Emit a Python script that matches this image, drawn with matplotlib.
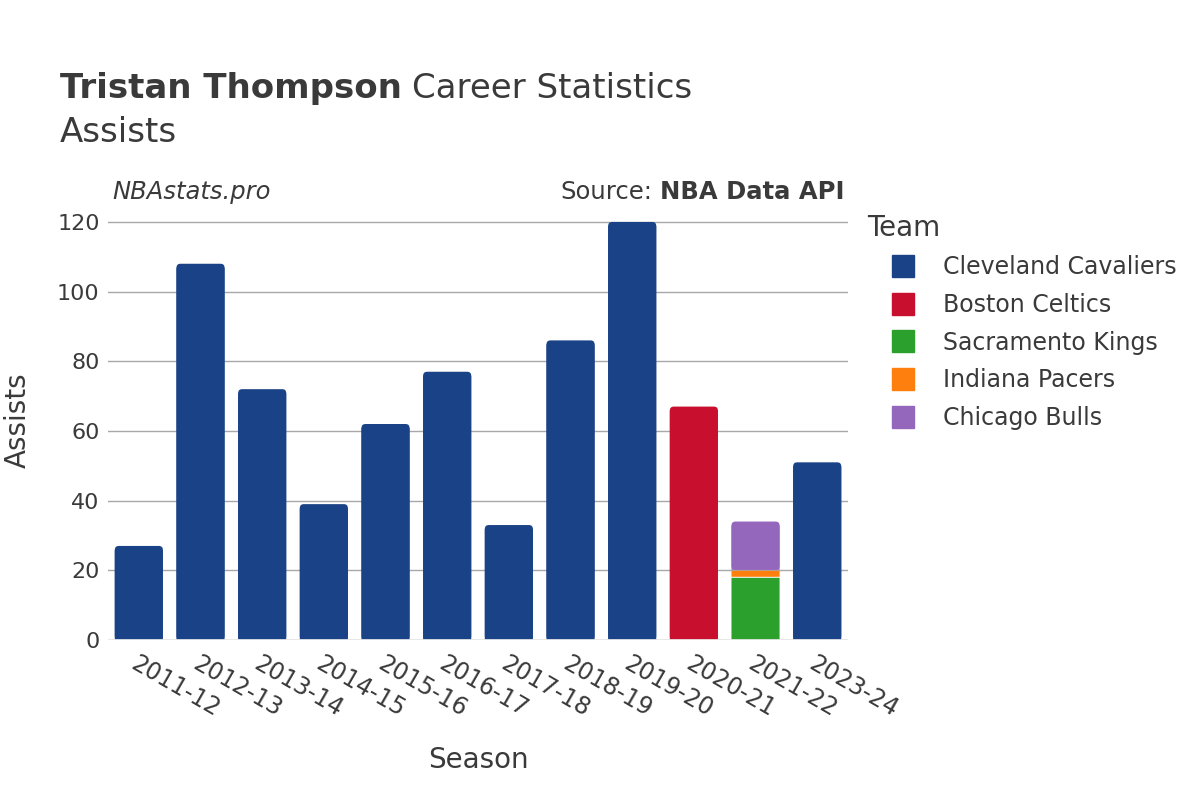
import matplotlib.pyplot as plt
from matplotlib.patches import FancyBboxPatch, Rectangle
from matplotlib.lines import Line2D

seasons = ["2011-12", "2012-13", "2013-14", "2014-15", "2015-16", "2016-17",
           "2017-18", "2018-19", "2019-20", "2020-21", "2021-22", "2023-24"]
teams = ["Cleveland Cavaliers", "Boston Celtics", "Sacramento Kings",
         "Indiana Pacers", "Chicago Bulls"]
colors = ["#1a4287", "#c8102e", "#2ca02c", "#ff7f0e", "#9467bd"]

cavaliers = [27, 108, 72, 39, 62, 77, 33, 86, 120, 0, 0, 51]
celtics = [0, 0, 0, 0, 0, 0, 0, 0, 0, 67, 0, 0]
kings = [0, 0, 0, 0, 0, 0, 0, 0, 0, 0, 18, 0]
pacers = [0, 0, 0, 0, 0, 0, 0, 0, 0, 0, 2, 0]
bulls = [0, 0, 0, 0, 0, 0, 0, 0, 0, 0, 14, 0]
series = [cavaliers, celtics, kings, pacers, bulls]

text_color = "#3a3a3a"
plt.rcParams['font.family'] = ['DejaVu Sans']

fig = plt.figure(figsize=(12, 8), dpi=100)
ax = fig.add_axes([0.09, 0.2, 0.6167, 0.55])

ymax = 126.3
x = list(range(len(seasons)))
width = 0.78
ax.set_xlim(-0.5, len(seasons) - 0.5)
ax.set_ylim(0, ymax)

# pixel scale, for the rounded tops and the thin gaps between segments
px_x = (len(seasons)) / (0.6167 * 1200)
px_y = ymax / (0.55 * 800)
radius = 4 * px_x
aspect = px_y / px_x
ry = radius * aspect
gap = 0.5 * px_y

totals = [sum(v) for v in zip(*series)]
bottoms = [0] * len(seasons)
for values, color in zip(series, colors):
    for i, v in enumerate(values):
        if v <= 0:
            continue
        b = bottoms[i]
        lo = b + (gap if b > 0 else 0)
        if b + v >= totals[i]:
            ax.add_patch(FancyBboxPatch(
                (x[i] - width / 2 + radius, lo + ry),
                width - 2 * radius, b + v - lo - 2 * ry,
                boxstyle="round,pad=%f" % radius, mutation_aspect=aspect,
                facecolor=color, edgecolor="none", zorder=3))
            ax.add_patch(Rectangle((x[i] - width / 2, lo), width,
                                   b + v - lo - ry, facecolor=color,
                                   edgecolor="none", zorder=3, snap=False))
        else:
            ax.add_patch(Rectangle((x[i] - width / 2, lo), width,
                                   b + v - gap - lo, facecolor=color,
                                   edgecolor="none", zorder=3, snap=False))
    bottoms = [bb + v for bb, v in zip(bottoms, values)]

ax.set_yticks([0, 20, 40, 60, 80, 100, 120])
ax.grid(axis='y', color="#a8a8a8", linewidth=1, zorder=0)
ax.axhline(0, color="#e8e8e8", linewidth=2, zorder=4)
for side in ax.spines.values():
    side.set_visible(False)
ax.tick_params(axis='both', length=0, colors=text_color)
ax.tick_params(axis='y', pad=6, labelsize=16)
ax.set_xticks(x)
ax.set_xticklabels(seasons, rotation=-30, ha='left', va='top',
                   rotation_mode='anchor')
ax.tick_params(axis='x', pad=8, labelsize=17)

ax.set_xlabel("Season", fontsize=20, color=text_color)
ax.set_ylabel("Assists", fontsize=20, color=text_color)
ax.xaxis.set_label_coords(0.5, -0.273)
ax.yaxis.set_label_coords(-0.1216, 0.5)
ax.xaxis.label.set_va('center')
ax.yaxis.label.set_va('center')

renderer = fig.canvas.get_renderer()
t1 = fig.text(0.05, 0.889, "Tristan Thompson", fontsize=24.5,
              fontweight='bold', color=text_color, va='center')
bb = t1.get_window_extent(renderer)
fig.text((bb.x1 + 10) / 1200, 0.889, "Career Statistics", fontsize=24.5,
         color=text_color, va='center')
fig.text(0.05, 0.835, "Assists", fontsize=24.5, color=text_color,
         va='center')

fig.text(0.094, 0.76, "NBAstats.pro", fontsize=17.5, style='italic',
         color=text_color, va='center')
t2 = fig.text(0.704, 0.76, "NBA Data API", fontsize=17.5, fontweight='bold',
              color=text_color, va='center', ha='right')
bb = t2.get_window_extent(renderer)
fig.text((bb.x0 - 8) / 1200, 0.76, "Source:", fontsize=17.5,
         color=text_color, va='center', ha='right')

handles = [Line2D([0], [0], marker='s', linestyle='', markersize=16,
                  markerfacecolor=c, markeredgecolor=c) for c in colors]
leg = fig.legend(handles, teams, title="Team", loc='upper left',
                 bbox_to_anchor=(0.7225, 0.733), frameon=False, fontsize=17,
                 title_fontsize=20, labelspacing=0.58, handlelength=3.05,
                 handletextpad=0.17, borderaxespad=0, borderpad=0)
leg._legend_box.align = "left"
for t in leg.get_texts():
    t.set_color(text_color)
leg.get_title().set_color(text_color)

fig.savefig("out.png", dpi=100, facecolor="white")
